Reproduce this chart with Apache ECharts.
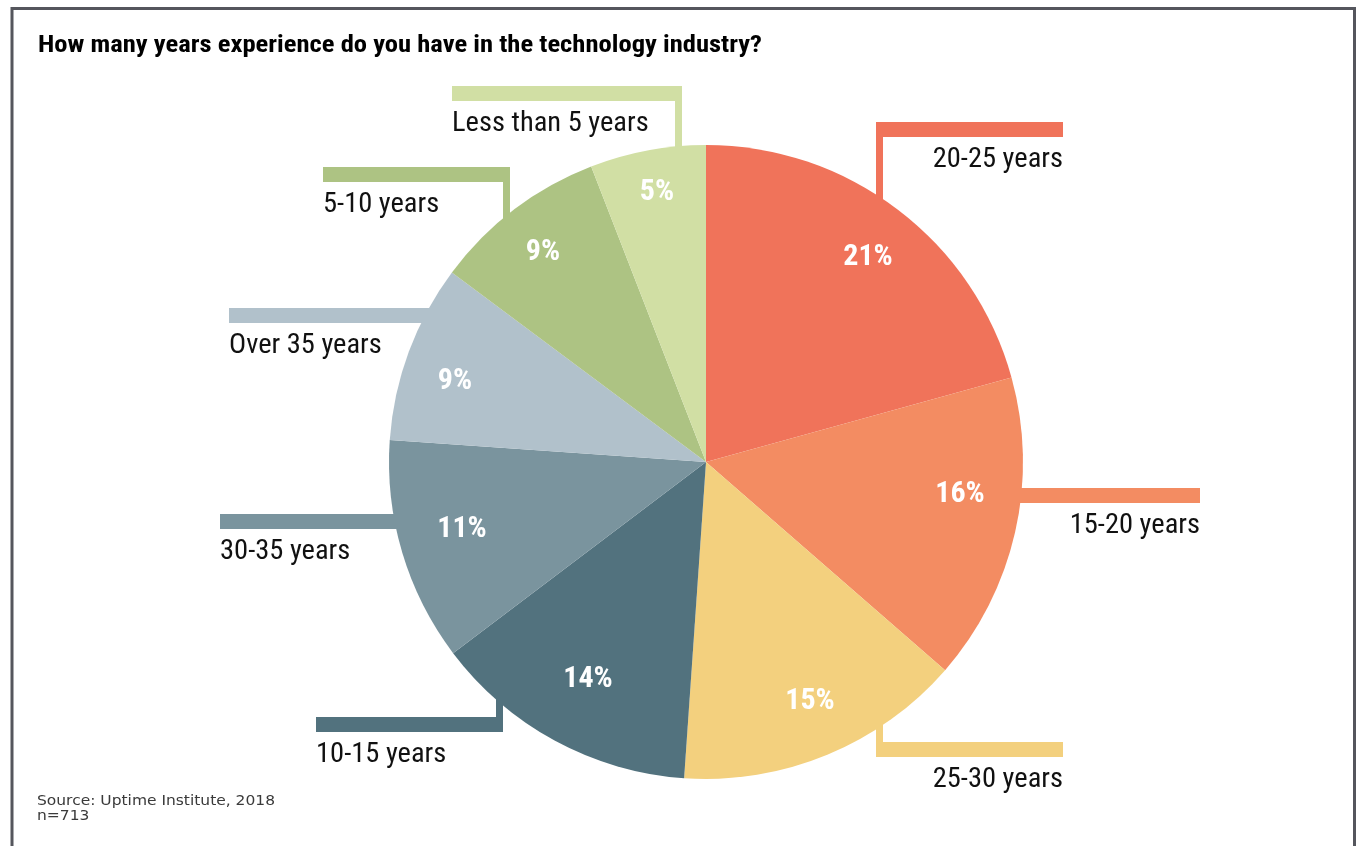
<!DOCTYPE html>
<html><head><meta charset="utf-8">
<script src="https://cdn.jsdelivr.net/npm/echarts@6/dist/echarts.min.js"></script>
<style>html,body{margin:0;padding:0;background:#fff;}#main{width:1358px;height:846px;}</style>
</head><body><div id="main"></div>
<script>
// ---------- data ----------
const categories = ['20-25 years','15-20 years','25-30 years','10-15 years','30-35 years','Over 35 years','5-10 years','Less than 5 years'];
const shares = [20.7, 15.7, 14.7, 13.6, 11.4, 9.1, 8.9, 5.9];
const pctLabels = ['21%','16%','15%','14%','11%','9%','9%','5%'];
const titleText = 'How many years experience do you have in the technology industry?';
const sourceLines = ['Source: Uptime Institute, 2018', 'n=713'];

// ---------- styles / layout ----------
const palette = ['#F0735A','#F38C62','#F3D07E','#52727E','#7A949E','#B1C1CB','#ADC383','#D1DFA4'];
const CX = 706, CY = 462, R = 317;
const callouts = [
  {x:876, y:122, w:187, side:'right', stemX:879.5},
  {x:1016, y:488, w:184, side:'right'},
  {x:876, y:742, w:187, side:'right', stemX:879.5},
  {x:316, y:717, w:187, side:'left', stemX:499.5},
  {x:220, y:514, w:182, side:'left'},
  {x:229, y:308, w:205, side:'left'},
  {x:323, y:167, w:187, side:'left', stemX:506.5},
  {x:452, y:86, w:230, side:'left', stemX:678.5}
];
const pctPos = [[868,257],[960,494],[810,701],[588,679],[462,529],[455,381],[543,252],[657,192]];
const FONT = "'Roboto Condensed', Roboto, sans-serif";
const SRC_FONT = "'DejaVu Sans', 'Liberation Sans', sans-serif";
const FS = 28.5, PFS = 30;
const TITLE_FS = 23, TITLE_W = 724;
const SRC_FS = 14, SRC_W = 238;

function textWidth(txt, font){
  const c = document.createElement('canvas').getContext('2d');
  c.font = font; return c.measureText(txt).width;
}
const titleScale = TITLE_W / textWidth(titleText, 'bold ' + TITLE_FS + 'px ' + FONT);
const srcScale = SRC_W / textWidth(sourceLines[0], SRC_FS + 'px ' + SRC_FONT);

const chart = echarts.init(document.getElementById('main'), null, {renderer:'canvas'});
chart.setOption({
  backgroundColor: '#fff',
  animation: false,
  graphic: [
    {type: 'rect', shape: {x: 12, y: 8.5, width: 1342.5, height: 900}, style: {fill: 'none', stroke: '#55565d', lineWidth: 3}, silent: true},
    {type: 'text', x: 38, y: 46, scaleX: titleScale, silent: true,
     style: {text: titleText, fontSize: TITLE_FS, fontWeight: 'bold', fontFamily: FONT, fill: '#000', verticalAlign: 'middle'}},
    {type: 'text', x: 37, y: 801, scaleX: srcScale, silent: true,
     style: {text: sourceLines[0], fontSize: SRC_FS, fontFamily: SRC_FONT, fill: '#3a3a3a', verticalAlign: 'middle'}},
    {type: 'text', x: 37, y: 816, scaleX: srcScale, silent: true,
     style: {text: sourceLines[1], fontSize: SRC_FS, fontFamily: SRC_FONT, fill: '#3a3a3a', verticalAlign: 'middle'}}
  ],
  series: [
    {
      type: 'pie', center: [CX, CY], radius: R, startAngle: 90, clockwise: true,
      avoidLabelOverlap: false, silent: true,
      itemStyle: {borderWidth: 0},
      label: {show: true, position: 'outside', formatter: p => '{bar|}\n{t|' + p.name + '}'},
      labelLine: {show: true, smooth: false, lineStyle: {width: 7}},
      labelLayout: function (params) {
        const c = callouts[params.dataIndex];
        const o = {x: c.x, y: c.y, align: 'left', verticalAlign: 'top'};
        if (c.stemX != null) {
          const dx = c.stemX - CX;
          const h = Math.sqrt(R * R - dx * dx);
          const above = c.y < CY;
          const edgeY = above ? CY - h + 5 : CY + h - 5;
          const barMid = c.y + 7.5;
          o.labelLinePoints = [[c.stemX, barMid], [c.stemX, (barMid + edgeY) / 2], [c.stemX, edgeY]];
        }
        return o;
      },
      data: categories.map((name, i) => ({
        name: name, value: shares[i],
        itemStyle: {color: palette[i]},
        label: {rich: {
          bar: {width: callouts[i].w, height: 15, lineHeight: 15, backgroundColor: palette[i]},
          t: {align: callouts[i].side, fontSize: FS, fontFamily: FONT, color: '#111', lineHeight: 45}
        }},
        labelLine: {show: callouts[i].stemX != null, lineStyle: {color: palette[i], width: 7}}
      }))
    },
    {
      type: 'pie', center: [CX, CY], radius: R, startAngle: 90, clockwise: true,
      avoidLabelOverlap: false, silent: true,
      itemStyle: {borderWidth: 0, color: 'rgba(0,0,0,0)'},
      label: {show: true, position: 'inside', formatter: p => pctLabels[p.dataIndex],
        color: '#fff', fontWeight: 'bold', fontSize: PFS, fontFamily: FONT},
      labelLine: {show: false},
      labelLayout: p => ({x: pctPos[p.dataIndex][0], y: pctPos[p.dataIndex][1], align: 'center', verticalAlign: 'middle'}),
      data: categories.map((name, i) => ({name: name, value: shares[i]}))
    }
  ]
});
</script></body></html>
